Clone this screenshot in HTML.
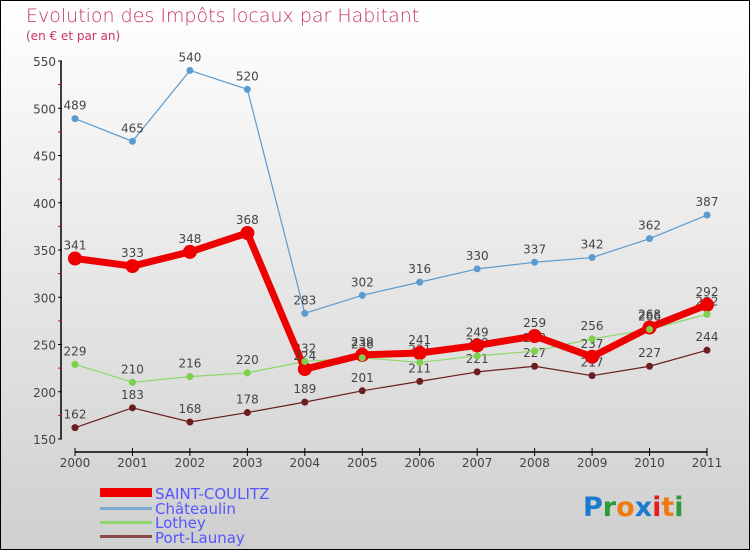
<!DOCTYPE html>
<html><head><meta charset="utf-8"><style>
html,body{margin:0;padding:0}
body{width:750px;height:550px;overflow:hidden;font-family:"DejaVu Sans","Liberation Sans",sans-serif}
#wrap{position:relative;width:748px;height:548px;border:1px solid #000;background:linear-gradient(#ffffff,#cfcfcf)}
</style></head><body>
<div id="wrap">
<svg id="chart" width="748" height="548" viewBox="1 1 748 548" xmlns="http://www.w3.org/2000/svg">
<text x="26" y="22" font-size="19" fill="#c8336a" font-family="DejaVu Sans" font-weight="200">Evolution des Impôts locaux par Habitant</text>
<text x="26" y="40" font-size="12" fill="#c8336a">(en € et par an)</text>
<g id="axes"></g><g id="series"></g>
<g>
<rect x="100" y="488" width="52" height="9" fill="#e00"/>
<text x="155" y="499" font-size="15" fill="#5555ff">SAINT-COULITZ</text>
<rect x="100" y="507" width="52" height="3" fill="#7aa9d2"/>
<text x="155" y="514" font-size="15" fill="#5555ff">Châteaulin</text>
<rect x="100" y="521" width="52" height="3" fill="#8fd66a"/>
<text x="155" y="528" font-size="15" fill="#5555ff">Lothey</text>
<rect x="100" y="535" width="52" height="3" fill="#8a4a4a"/>
<text x="155" y="543" font-size="15" fill="#5555ff">Port-Launay</text>
</g>
<text x="583" y="516" font-size="27" font-weight="bold" font-family="DejaVu Sans"><tspan fill="#1a7ad0">P</tspan><tspan fill="#2a9a3a">r</tspan><tspan fill="#f07a10">o</tspan><tspan fill="#1a7ad0">x</tspan><tspan fill="#e02020">i</tspan><tspan fill="#f07a10">t</tspan><tspan fill="#2a9a3a">i</tspan></text>
</svg></div>
<script>
const years=["2000","2001","2002","2003","2004","2005","2006","2007","2008","2009","2010","2011"];
const yTicks=[150,200,250,300,350,400,450,500,550];
const saintCoulitz=[341,333,348,368,224,239,241,249,259,237,268,292];
const chateaulin=[489,465,540,520,283,302,316,330,337,342,362,387];
const lothey=[229,210,216,220,232,236,231,238,243,256,266,282];
const portLaunay=[162,183,168,178,189,201,211,221,227,217,227,244];
const NS="http://www.w3.org/2000/svg";
function xs(i){return 75+i*(707-75)/(years.length-1);}
function ys(v){return 439-(v-150)*(439-61)/400;}
function mk(tag,attrs,parent){const e=document.createElementNS(NS,tag);for(const k in attrs)e.setAttribute(k,attrs[k]);parent.appendChild(e);return e;}
const axes=document.getElementById('axes');
let ya=mk('line',{x1:61,y1:61,x2:61,y2:439,stroke:'#000','stroke-width':1.5},axes);


yTicks.forEach((t,i)=>{
 mk('line',{x1:58,x2:62,y1:ys(t),y2:ys(t),stroke:'#000'},axes);
 if(i<yTicks.length-1) mk('line',{x1:58,x2:61,y1:ys(t+25),y2:ys(t+25),stroke:'#e00'},axes);
 const tx=mk('text',{x:56,y:ys(t)+5,'text-anchor':'end','font-size':12,fill:'#444'},axes);
 tx.textContent=t;
 
 
});
let xa=mk('line',{x1:75,y1:452,x2:707,y2:452,stroke:'#000','stroke-width':1.5},axes);


years.forEach((y,i)=>{
 mk('line',{x1:xs(i),x2:xs(i),y1:448,y2:456,stroke:'#000'},axes);
 const tx=mk('text',{x:xs(i),y:467,'text-anchor':'middle','font-size':12,fill:'#444'},axes);
 tx.textContent=y;
 
 
});
const ser=document.getElementById('series');
function draw(data,name,color,w,r){
 const g=mk('g',{},ser);
 
 
 const pl=mk('polyline',{points:data.map((v,i)=>xs(i)+','+ys(v)).join(' '),fill:'none',stroke:color,'stroke-width':w,'stroke-linejoin':'round'},g);
 
 
 data.forEach((v,i)=>{
  const c=mk('circle',{cx:xs(i),cy:ys(v),r:r,fill:color},g);
  
  
  const t=mk('text',{x:xs(i),y:ys(v)-9,'text-anchor':'middle','font-size':12,fill:'#444'},g);
  t.textContent=v;
  
  
 });
}
draw(chateaulin,'chateaulin','#5b9bd0',1.2,3.5);
draw(portLaunay,'port-launay','#6b1e1e',1.2,3.5);
draw(lothey,'lothey','#8fd66a',1.2,3.5);
draw(saintCoulitz,'saint-coulitz','#e00',7,7);
// re-add lothey points on top of red as in reference
lothey.forEach((v,i)=>{
 const c=mk('circle',{cx:xs(i),cy:ys(v),r:3.5,fill:'#7ed04e'},ser);
 
 
});
</script>
</body></html>
